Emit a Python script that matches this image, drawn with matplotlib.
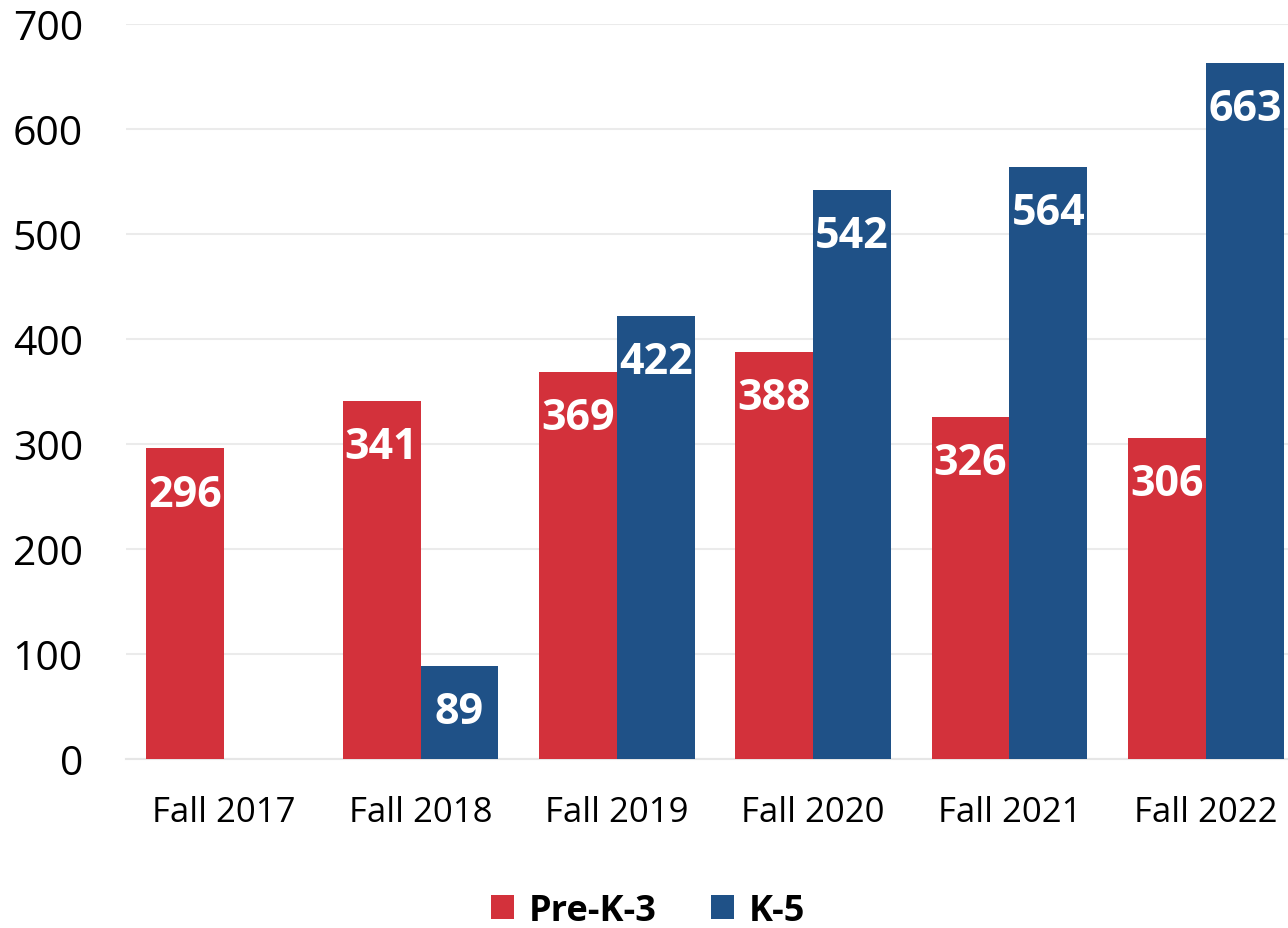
import numpy as np
import matplotlib
matplotlib.use('Agg')
import matplotlib.pyplot as plt

plt.rcParams['font.family'] = ['Open Sans', 'DejaVu Sans']

# enrollment by fall term
terms = ['Fall 2017', 'Fall 2018', 'Fall 2019', 'Fall 2020', 'Fall 2021', 'Fall 2022']
prek3 = [296, 341, 369, 388, 326, 306]
k5 = [0, 89, 422, 542, 564, 663]

red = '#D3313B'
blue = '#1F5187'

fig = plt.figure(figsize=(12.88, 9.29), dpi=100)
ax = fig.add_axes([126/1288, 1 - 760/929, 1178/1288, 735/929])

x = np.arange(len(terms))
w = 0.397
b1 = ax.bar(x - w/2, prek3, width=w, color=red, label='Pre-K-3', zorder=3)
b2 = ax.bar(x + w/2, k5, width=w, color=blue, label='K-5', zorder=3)

# white labels inside the bar tops
for bars, vals in [(b1, prek3), (b2, k5)]:
    for bar, v in zip(bars, vals):
        if v == 0:
            continue
        ax.annotate(str(v), (bar.get_x() + bar.get_width()/2, v),
                    xytext=(0, -33), textcoords='offset points',
                    ha='center', va='center', color='white',
                    fontsize=31, fontweight='bold', zorder=4)

ax.set_xlim(-0.5, len(terms) - 0.5)
ax.set_ylim(0, 700)
ax.set_yticks(range(0, 701, 100))
ax.set_xticks(x)
ax.set_xticklabels(terms)
ax.tick_params(axis='y', length=0, labelsize=29.5, pad=31)
ax.tick_params(axis='x', length=0, labelsize=25, pad=26)
ax.grid(axis='y', color='#EBEBEB', linewidth=1.5, zorder=0)
for s in ['top', 'right', 'left']:
    ax.spines[s].set_visible(False)
ax.spines['bottom'].set_color('#E6E6E6')
ax.spines['bottom'].set_linewidth(1.5)

fig.legend(loc='center', bbox_to_anchor=(648/1288, 1 - 912/929), ncol=2,
           frameon=False, prop={'size': 26, 'weight': 'bold'},
           handlelength=0.65, handleheight=0.65, handletextpad=0.4, columnspacing=1.5)

fig.savefig('out.png', dpi=100)
